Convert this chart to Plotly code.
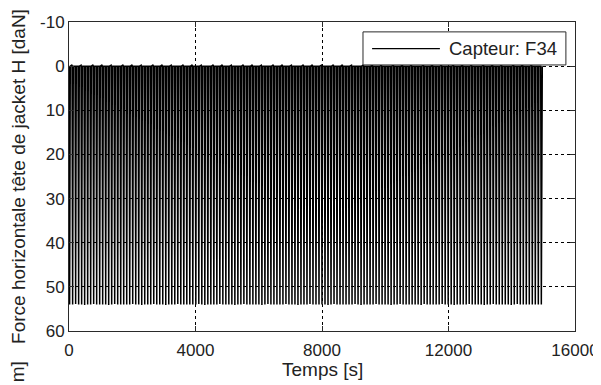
import plotly.graph_objects as go

# Signal description: one short load pulse every ~95 s,
# baseline near 0 daN and peak force of each pulse (daN), recording ends ~15000 s
cycle_period_s = 95
pulse_width_s = 40
baseline_daN = [0.0, -0.3, 0.0, 0.0, -0.2, 0.0, 0.0, 0.0, -0.3, 0.0]
peak_daN = [
    54.0, 54.0, 53.9, 54.0, 54.0, 54.1, 54.0, 54.0, 53.9, 54.0,
    54.0, 54.0, 54.0, 54.1, 54.0, 53.9, 54.0, 54.0, 54.0, 54.0,
    54.0, 53.9, 54.0, 54.0, 54.1, 54.0, 54.0, 54.0, 53.9, 54.0,
    54.0, 54.0, 54.1, 54.0, 54.0, 54.0, 53.9, 54.0, 54.0, 54.0,
    54.0, 54.0, 54.0, 53.9, 54.0, 54.1, 54.0, 54.0, 54.0, 54.0,
    53.9, 54.0, 54.0, 54.0, 54.0, 54.1, 54.0, 54.0, 53.9, 54.0,
    54.0, 54.0, 54.0, 54.0, 54.1, 54.0, 53.9, 54.0, 54.0, 54.0,
    54.0, 54.0, 53.9, 54.0, 54.0, 54.0, 54.1, 54.0, 54.0, 54.0,
    53.9, 54.0, 54.0, 54.0, 54.0, 54.0, 54.1, 54.0, 53.9, 54.0,
    54.0, 54.0, 54.0, 54.0, 54.0, 53.9, 54.0, 54.1, 54.0, 54.0,
    54.0, 54.0, 53.9, 54.0, 54.0, 54.0, 54.0, 54.1, 54.0, 54.0,
    53.9, 54.0, 54.0, 54.0, 54.0, 54.0, 54.0, 54.1, 53.9, 54.0,
    54.0, 54.0, 54.0, 54.0, 53.9, 54.0, 54.0, 54.0, 54.1, 54.0,
    54.0, 54.0, 54.0, 53.9, 54.0, 54.0, 54.0, 54.0, 54.1, 54.0,
    54.0, 53.9, 54.0, 54.0, 54.0, 54.0, 54.0, 54.1, 54.0, 53.9,
    54.0, 54.0, 54.0, 54.0, 54.0, 54.0, 54.0, 54.0,
]

x_ticks = [0, 4000, 8000, 12000, 16000]
y_ticks = [-10, 0, 10, 20, 30, 40, 50, 60]
series_name = "Capteur: F34"
x_title = "Temps [s]"
y_title = "Force horizontale tête de jacket H [daN]"

t, f = [], []
for i, p in enumerate(peak_daN):
    t0 = i * cycle_period_s
    t.append(t0)
    f.append(baseline_daN[i % len(baseline_daN)])
    t.append(t0 + pulse_width_s / 2)
    f.append(p)
    t.append(t0 + pulse_width_s)
    f.append(0.0)
t.append(len(peak_daN) * cycle_period_s - cycle_period_s + pulse_width_s + 10)
f.append(0.0)

FONT = "Liberation Sans, Arial, sans-serif"
TXT = "#222222"
AX = "#2a2a2a"

fig = go.Figure()
fig.add_trace(go.Scatter(
    x=t, y=f, mode="lines", name=series_name, showlegend=False,
    line=dict(color="black", width=1.5),
))

axis_common = dict(
    showline=True, linecolor=AX, linewidth=1, mirror="ticks",
    ticks="inside", ticklen=5, tickcolor=AX,
    showgrid=True, gridcolor="black", griddash="dot", gridwidth=1,
    zeroline=False, automargin=False,
    tickfont=dict(family=FONT, size=17, color=TXT),
)

# the page body keeps an 8 px margin, so the figure is sized to fill
# the remaining part of the 601x385 window
fig.update_layout(
    width=593, height=377,
    margin=dict(l=61, r=26, t=14, b=54),
    paper_bgcolor="white", plot_bgcolor="white",
    font=dict(family=FONT, size=17, color=TXT),
    xaxis=dict(range=[0, 16000], tickvals=x_ticks,
               ticktext=[str(v) for v in x_ticks],
               ticklabelstandoff=4, **axis_common),
    yaxis=dict(range=[60, -10], tickvals=y_ticks,
               ticktext=[str(v) for v in y_ticks],
               **axis_common),
    showlegend=False,
)

# axis titles
fig.add_annotation(text=x_title, xref="paper", yref="paper", x=0.5, y=-0.126,
                   xanchor="center", yanchor="middle", showarrow=False,
                   font=dict(family=FONT, size=19, color=TXT))
fig.add_annotation(text=y_title, xref="paper", yref="paper", x=-0.100, y=0.5,
                   xanchor="center", yanchor="middle", showarrow=False,
                   textangle=-90, font=dict(family=FONT, size=19, color=TXT))
# fragment of a neighbouring label visible at the bottom-left
fig.add_annotation(text="m]", xref="paper", yref="paper", x=-0.100, y=-0.092,
                   xanchor="center", yanchor="top", showarrow=False,
                   textangle=-90, font=dict(family=FONT, size=19, color=TXT))

# legend box (Matlab style, long line sample)
fig.add_shape(type="rect", xref="paper", yref="paper",
              x0=0.581, x1=0.982, y0=0.861, y1=0.968,
              line=dict(color=AX, width=1), fillcolor="white", layer="above")
fig.add_shape(type="line", xref="paper", yref="paper",
              x0=0.599, x1=0.733, y0=0.914, y1=0.914,
              line=dict(color="black", width=1.2), layer="above")
fig.add_annotation(text=series_name, xref="paper", yref="paper",
                   x=0.748, y=0.914, xanchor="left", yanchor="middle",
                   showarrow=False, font=dict(family=FONT, size=18.5, color=TXT))

fig.write_html("out.html")
